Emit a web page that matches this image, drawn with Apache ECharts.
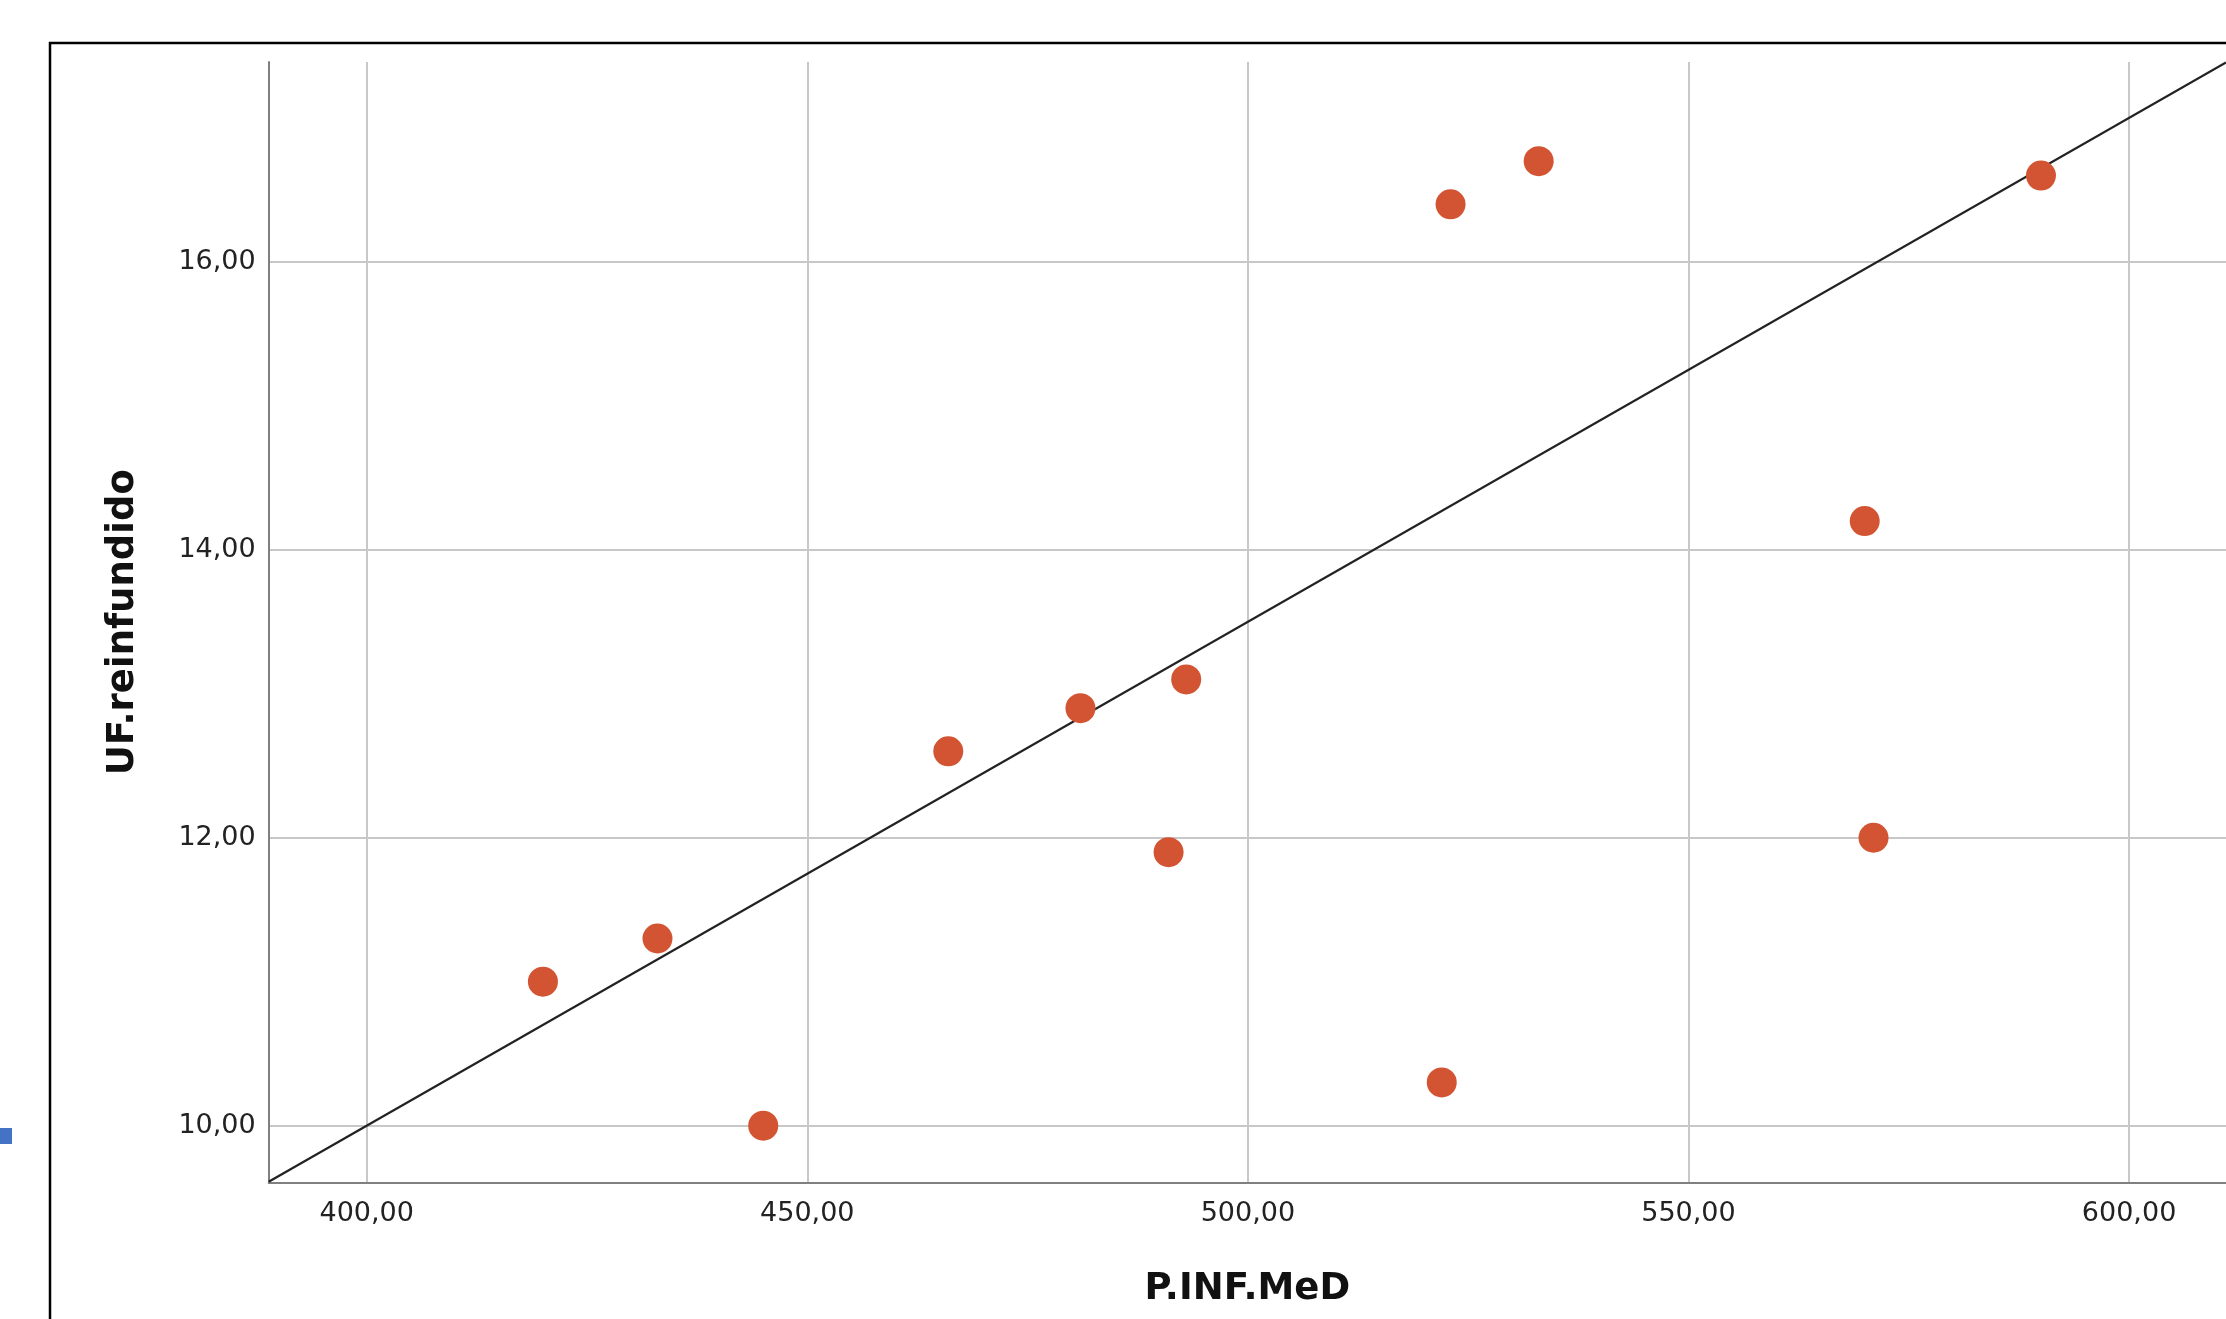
<!DOCTYPE html>
<html>
<head>
<meta charset="utf-8">
<script src="https://cdn.jsdelivr.net/npm/echarts@6/dist/echarts.min.js"></script>
<style>
html,body{margin:0;padding:0;background:#fff;}
#c{width:2226px;height:1319px;}
</style>
</head>
<body>
<div id="c"></div>
<script>
// Data
const pInfMed = [420, 433, 445, 466, 481, 493, 491, 523, 533, 522, 570, 571, 590];
const ufReinfundido = [11.0, 11.3, 10.0, 12.6, 12.9, 13.1, 11.9, 16.4, 16.7, 10.3, 14.2, 12.0, 16.6];
const refLineX = [388.88, 611.0];
const refLineY = [9.61, 17.385];
const xTicks = [400, 450, 500, 550, 600];
const yTicks = [10, 12, 14, 16];
const xTitle = 'P.INF.MeD';
const yTitle = 'UF.reinfundido';

const fmt = v => Number(v).toFixed(2).replace('.', ',');
const labelFont = {fontFamily: 'DejaVu Sans', fontSize: 27, color: '#222'};
const titleFont = {fontFamily: 'DejaVu Sans', fontSize: 37, fontWeight: 'bold', color: '#111'};

const chart = echarts.init(document.getElementById('c'), null, {renderer: 'canvas'});
chart.setOption({
  backgroundColor: '#fff',
  animation: false,
  graphic: [
    {type: 'rect', shape: {x: 50, y: 43, width: 2400, height: 1500}, style: {fill: 'none', stroke: '#000', lineWidth: 2.5}, z: 100},
    {type: 'rect', shape: {x: 0, y: 1128, width: 12, height: 16}, style: {fill: '#4472c4'}, z: 100}
  ],
  grid: {left: 268.7, top: 62, right: 0, bottom: 136.5, containLabel: false},
  xAxis: {
    type: 'value', min: refLineX[0], max: refLineX[1],
    name: xTitle, nameLocation: 'middle', nameGap: 88, nameTextStyle: titleFont,
    axisLine: {show: true, onZero: false, lineStyle: {color: '#808080', width: 2}},
    axisTick: {show: false, customValues: xTicks},
    axisLabel: Object.assign({customValues: xTicks, formatter: fmt, margin: 18}, labelFont),
    splitLine: {show: true, lineStyle: {color: '#c8c8c8', width: 2}}
  },
  yAxis: {
    type: 'value', min: refLineY[0] - 0.005, max: 17.389,
    name: yTitle, nameLocation: 'middle', nameGap: 127, nameRotate: 90, nameTextStyle: titleFont,
    axisLine: {show: true, onZero: false, lineStyle: {color: '#808080', width: 2}},
    axisTick: {show: false, customValues: yTicks},
    axisLabel: Object.assign({customValues: yTicks, formatter: fmt, margin: 13, padding: [12, 0, 0, 0]}, labelFont),
    splitLine: {show: true, lineStyle: {color: '#c8c8c8', width: 2}}
  },
  series: [
    {
      type: 'line', data: refLineX.map((x, i) => [x, refLineY[i]]),
      symbol: 'none', lineStyle: {color: '#222', width: 2.2}, z: 3, silent: true
    },
    {
      type: 'scatter', data: pInfMed.map((x, i) => [x, ufReinfundido[i]]),
      symbolSize: 30, itemStyle: {color: '#d35433', opacity: 1}, z: 4
    }
  ]
});
</script>
</body>
</html>
